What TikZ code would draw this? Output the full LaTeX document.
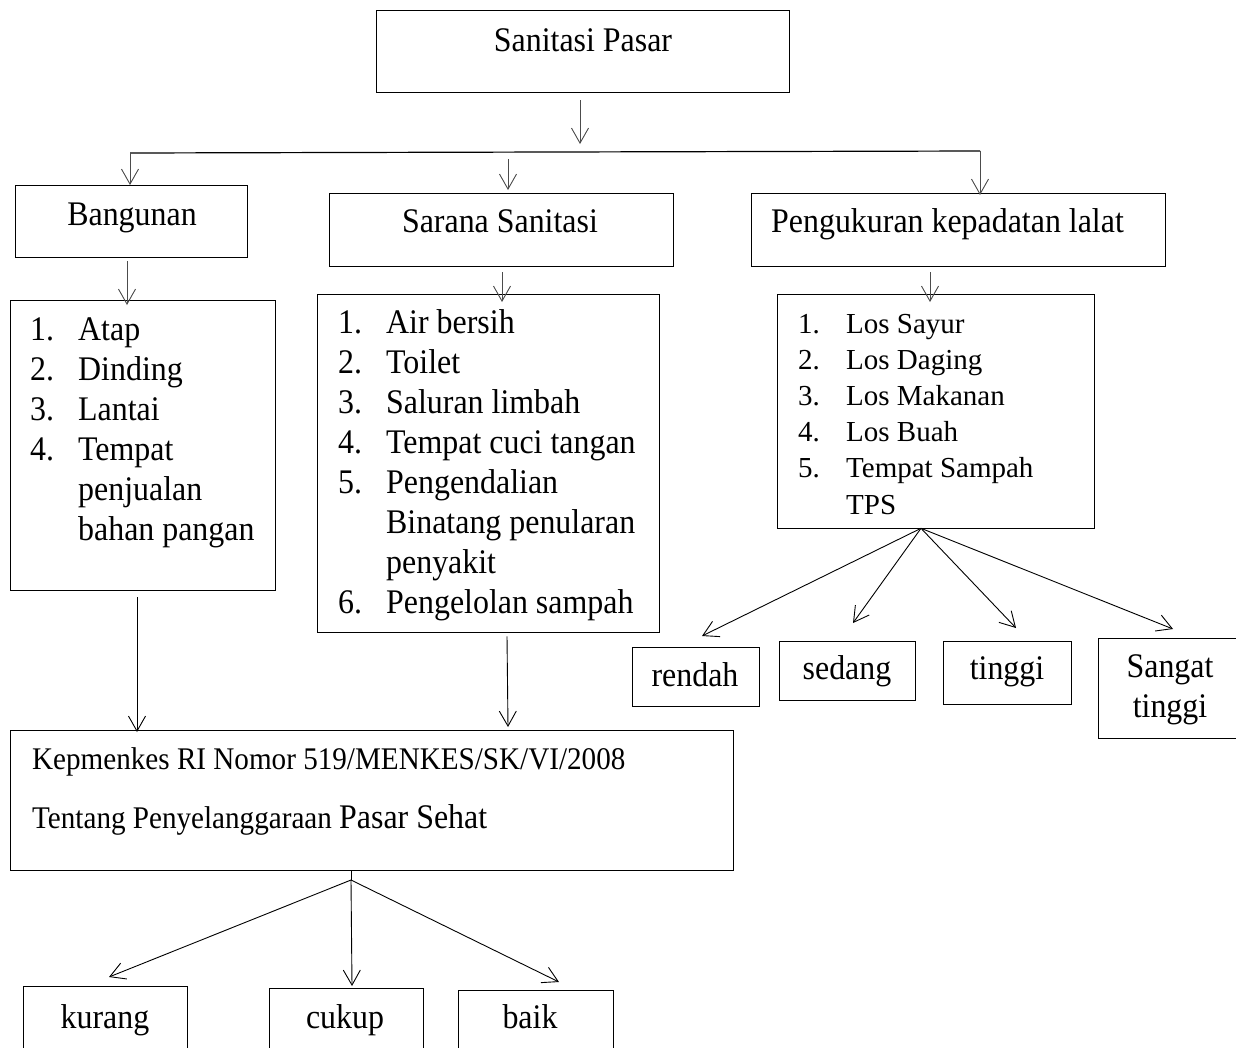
\documentclass[tikz,border=0pt]{standalone}
\usepackage{fontspec}
\setmainfont{Liberation Serif}[FakeStretch=0.925]
\newfontfamily\losfont{Liberation Serif}
\usetikzlibrary{arrows.meta,calc}
\newcommand\bigtxt{\fontsize{34.5}{40}\selectfont}
\newcommand\kepfont{\fontsize{31.5}{40}\selectfont}
\newcommand\numbox[1]{\makebox[48pt][l]{#1}}
\begin{document}
\begin{tikzpicture}[x=1pt,y=-1pt,
  box/.style={draw, line width=1.3pt, inner sep=0pt, anchor=north west},
  txt/.style={inner sep=0pt, font=\bigtxt},
  arr/.style={line width=0.9pt, -{Straight Barb[length=15pt,width=17pt]}},
  arrg/.style={arr, draw=black!70},
]
\useasboundingbox (0,0) rectangle (1236,1047);
\fill[white] (0,0) rectangle (1236,1047);
\clip (0,0) rectangle (1236,1047);

% boxes
\node[box, minimum width=413pt, minimum height=82pt] (top) at (376,10) {};
\node[box, minimum width=232pt, minimum height=72pt] (bang) at (15,185) {};
\node[box, minimum width=344pt, minimum height=73pt] (sar) at (329,193) {};
\node[box, minimum width=414pt, minimum height=73pt] (pen) at (751,193) {};
\node[box, minimum width=265pt, minimum height=290pt] (blist) at (10,300) {};
\node[box, minimum width=342pt, minimum height=338pt] (slist) at (317,294) {};
\node[box, minimum width=317pt, minimum height=234pt] (llist) at (777,294) {};
\node[box, minimum width=723pt, minimum height=140pt] (kep) at (10,730) {};
\node[box, minimum width=164pt, minimum height=74pt] (kur) at (23,986) {};
\node[box, minimum width=154pt, minimum height=72pt] (cuk) at (269,988) {};
\node[box, minimum width=155pt, minimum height=70pt] (baik) at (458,990) {};
\node[box, minimum width=127pt, minimum height=59pt] (ren) at (632,647) {};
\node[box, minimum width=136pt, minimum height=59pt] (sed) at (779,641) {};
\node[box, minimum width=128pt, minimum height=63pt] (tin) at (943,641) {};
\node[box, minimum width=152pt, minimum height=100pt] (san) at (1098,638) {};

% texts
\node[txt, anchor=base] (tTop) at (583,51) {Sanitasi Pasar};
\node[txt, anchor=base] (tBang) at (132,225) {Bangunan};
\node[txt, anchor=base] (tSar) at (500,232) {Sarana Sanitasi};
\node[txt, anchor=base west] (tPen) at (771,232) {Pengukuran kepadatan lalat};
\node[txt, anchor=base west] (tBlist) at (30,340) {\begin{tabular}[t]{@{}l@{}l@{}}
\numbox{1.} & Atap\\
\numbox{2.} & Dinding\\
\numbox{3.} & Lantai\\
\numbox{4.} & Tempat\\
 & penjualan\\
 & bahan pangan
\end{tabular}};
\node[txt, anchor=base west] (tSlist) at (338,333) {\begin{tabular}[t]{@{}l@{}l@{}}
\numbox{1.} & Air bersih\\
\numbox{2.} & Toilet\\
\numbox{3.} & Saluran limbah\\
\numbox{4.} & Tempat cuci tangan\\
\numbox{5.} & Pengendalian\\
 & Binatang penularan\\
 & penyakit\\
\numbox{6.} & Pengelolan sampah
\end{tabular}};
\node[inner sep=0pt, anchor=base west, font=\losfont\fontsize{29}{36.2}\selectfont] (tLlist) at (798,333) {\begin{tabular}[t]{@{}l@{}l@{}}
\numbox{1.} & Los Sayur\\
\numbox{2.} & Los Daging\\
\numbox{3.} & Los Makanan\\
\numbox{4.} & Los Buah\\
\numbox{5.} & Tempat Sampah\\
 & TPS
\end{tabular}};
\node[inner sep=0pt, anchor=base west, font=\kepfont] (tKep1) at (32,769) {Kepmenkes RI Nomor 519/MENKES/SK/VI/2008};
\node[inner sep=0pt, anchor=base west, font=\kepfont] (tKep2) at (32,828) {Tentang Penyelanggaraan {\bigtxt Pasar Sehat}};
\node[txt, anchor=base] (tKur) at (105,1028) {kurang};
\node[txt, anchor=base] (tCuk) at (345,1028) {cukup};
\node[txt, anchor=base] (tBaik) at (530,1028) {baik};
\node[txt, anchor=base] (tRen) at (695,686) {rendah};
\node[txt, anchor=base] (tSed) at (847,679) {sedang};
\node[txt, anchor=base] (tTin) at (1007,679) {tinggi};
\node[txt, anchor=base] (tSan) at (1170,677) {\begin{tabular}[t]{@{}c@{}}Sangat\\ tinggi\end{tabular}};

% connectors
\coordinate (jtip) at (580,144);
\coordinate (barL) at (130,153);
\coordinate (barR) at (980,151);
\coordinate (midS) at (508,159);
\draw[arrg] ($(top.south west)+(204,7)$) -- (jtip);
\draw[line width=1.2pt] (barL) -- (barR);
\draw[arrg] (barL) -- ($(bang.north west)+(115,0)$);
\draw[arrg] (midS) -- ($(sar.north west)+(179,-3)$);
\draw[arrg] (barR) -- ($(pen.north west)+(229,2)$);
\draw[arrg] ($(bang.south west)+(112,3)$) -- ($(blist.north west)+(117,5)$);
\draw[arrg] ($(sar.south west)+(173,5)$) -- ($(slist.north west)+(185,8)$);
\draw[arrg] ($(pen.south west)+(179,5)$) -- ($(llist.north west)+(153,8)$);
\draw[arr] ($(blist.south west)+(127,6)$) -- ($(kep.north west)+(127,2)$);
\draw[arr] ($(slist.south west)+(190,3)$) -- ($(kep.north west)+(498,-3)$);

\coordinate (kj) at (351,880);
\draw[line width=0.9pt] ($(kep.south west)+(341,0)$) -- (kj);
\draw[arr] (kj) -- ($(kur.north west)+(86,-9)$);
\draw[arr] (kj) -- ($(cuk.north west)+(83,-2)$);
\draw[arr] (kj) -- ($(baik.north west)+(101,-8)$);

\coordinate (lj) at ($(llist.south west)+(144,-1)$);
\draw[arr] (lj) -- ($(ren.north west)+(70,-11)$);
\draw[arr] (lj) -- ($(sed.north west)+(74,-18)$);
\draw[arr] (lj) -- ($(tin.north west)+(73,-13)$);
\draw[arr] (lj) -- ($(san.north west)+(75,-9)$);
\end{tikzpicture}
\end{document}
